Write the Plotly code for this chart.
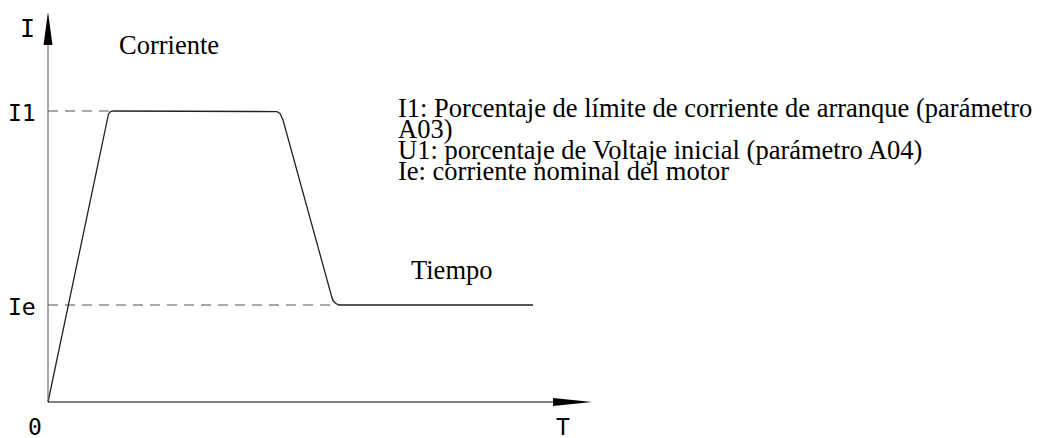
import plotly.graph_objects as go

# Curva de corriente de arranque (unidades: tiempo arbitrario, corriente en múltiplos de Ie)
t_curve = [0, 5.96, 6.04, 6.18, 6.38, 6.6, 22.5, 22.9, 23.2, 23.4, 23.5,
           28.35, 28.5, 28.75, 29.1, 29.4, 48.5]
i_curve = [0, 2.928, 2.964, 2.987, 2.998, 3.0, 3.0, 2.994, 2.974, 2.938, 2.907,
           1.093, 1.046, 1.018, 1.0, 1.0, 1.0]

I1_level = 3.0
Ie_level = 1.0
t_I1 = 6.1      # donde la curva alcanza I1
t_Ie = 28.8     # donde la curva vuelve a Ie

t_axis_end = 54.4
i_axis_end = 4.02

notes = [
    "I1: Porcentaje de límite de corriente de arranque (parámetro",
    "A03)",
    "U1: porcentaje de Voltaje inicial (parámetro A04)",
    "Ie: corriente nominal del motor",
]

# la página html deja 8px de margen alrededor de la figura
PAD = 8
W, H = 1040, 430
serif = "Liberation Serif"
mono = "DejaVu Sans Mono"


def px(x):
    return (x - PAD) / W


def py(y):
    return 1 - (y - PAD) / H


fig = go.Figure()

# líneas discontinuas de referencia
fig.add_trace(go.Scatter(x=[0, t_I1], y=[I1_level, I1_level], mode="lines",
                         line=dict(color="#555555", width=1, dash="10px,7px"),
                         hoverinfo="skip"))
fig.add_trace(go.Scatter(x=[0, t_Ie], y=[Ie_level, Ie_level], mode="lines",
                         line=dict(color="#555555", width=1, dash="10px,7px"),
                         hoverinfo="skip"))

# curva
fig.add_trace(go.Scatter(x=t_curve, y=i_curve, mode="lines",
                         line=dict(color="#222222", width=1.3),
                         hoverinfo="skip"))

# ejes con flecha
y_head_len = 0.34
y_head_w = 0.45
x_head_len = 3.9
x_head_w = 0.042
fig.add_trace(go.Scatter(x=[0, 0], y=[0, i_axis_end - y_head_len], mode="lines",
                         line=dict(color="#555555", width=1), hoverinfo="skip"))
fig.add_trace(go.Scatter(x=[0, t_axis_end - x_head_len], y=[0, 0], mode="lines",
                         line=dict(color="#000000", width=1.2), hoverinfo="skip"))
fig.add_shape(type="path",
              path=f"M {-y_head_w},{i_axis_end - y_head_len} L 0,{i_axis_end} "
                   f"L {y_head_w},{i_axis_end - y_head_len} Z",
              xref="x", yref="y", fillcolor="black", line=dict(width=0))
fig.add_shape(type="path",
              path=f"M {t_axis_end - x_head_len},{-x_head_w} L {t_axis_end},0 "
                   f"L {t_axis_end - x_head_len},{x_head_w} Z",
              xref="x", yref="y", fillcolor="black", line=dict(width=0))

# etiquetas de ejes
axis_font = dict(family=mono, size=23, color="black")
fig.add_annotation(x=0, y=I1_level, text="I1", showarrow=False, xanchor="right",
                   xshift=-10, yshift=-2, font=axis_font)
fig.add_annotation(x=0, y=Ie_level, text="Ie", showarrow=False, xanchor="right",
                   xshift=-10, yshift=-2, font=axis_font)
fig.add_annotation(x=0, y=i_axis_end, text="I", showarrow=False, xanchor="right",
                   xshift=-11, yshift=-16, font=dict(family=mono, size=25, color="black"))
fig.add_annotation(x=0, y=0, text="0", showarrow=False, xshift=-13, yshift=-25,
                   font=axis_font)
fig.add_annotation(x=t_axis_end, y=0, text="T", showarrow=False, xshift=-29,
                   yshift=-25, font=axis_font)

text_font = dict(family=serif, size=26.5, color="black")
fig.add_annotation(xref="paper", yref="paper", x=px(117), y=py(45),
                   text="Corriente", showarrow=False, xanchor="left",
                   yanchor="middle", font=text_font)
fig.add_annotation(xref="paper", yref="paper", x=px(409), y=py(270),
                   text="Tiempo", showarrow=False, xanchor="left",
                   yanchor="middle", font=text_font)
for k, line in enumerate(notes):
    fig.add_annotation(xref="paper", yref="paper", x=px(396),
                       y=py(108 + 21 * k), text=line, showarrow=False,
                       xanchor="left", yanchor="middle", font=text_font)

x0, y0 = 48 - PAD, 402 - PAD   # origen en píxeles de la figura
fig.update_xaxes(range=[-x0 / 10, (W - x0) / 10], visible=False, fixedrange=True)
fig.update_yaxes(range=[-(H - y0) / 97, y0 / 97], visible=False, fixedrange=True)
fig.update_layout(
    width=W, height=H,
    margin=dict(l=0, r=0, t=0, b=0),
    paper_bgcolor="white",
    plot_bgcolor="white",
    showlegend=False,
)

fig.write_html("out.html")
